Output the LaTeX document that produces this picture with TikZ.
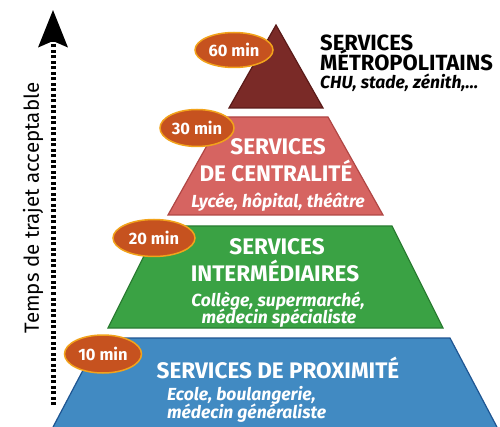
\documentclass[tikz,border=0pt]{standalone}
\usepackage{fontspec}
\setmainfont{Fira Sans}
\usetikzlibrary{arrows.meta,shapes.geometric}

\definecolor{metrored}{HTML}{7A2A27}
\definecolor{metroline}{HTML}{5A1A18}
\definecolor{centrered}{HTML}{D66461}
\definecolor{centreline}{HTML}{B04644}
\definecolor{intergreen}{HTML}{3AA244}
\definecolor{interline}{HTML}{2A7D32}
\definecolor{proxblue}{HTML}{418AC2}
\definecolor{proxline}{HTML}{1E5592}
\definecolor{badgefill}{HTML}{C6521F}
\definecolor{badgerim}{HTML}{F2A31B}

\begin{document}
\begin{tikzpicture}[x=1pt, y=-1pt,
	tier/.style={line width=1.2pt, line join=miter},
	badge/.style={ellipse, fill=badgefill, draw=badgerim, line width=1.5pt, inner sep=0pt, text=white, font=\bfseries\fontsize{16.5}{16.5}\selectfont},
	title/.style={anchor=base, inner sep=0pt, text=white, font=\bfseries\fontsize{22.5}{22.5}\selectfont},
	example/.style={anchor=base, inner sep=0pt, text=white, font=\bfseries\itshape\fontsize{17.5}{17.5}\selectfont}]
		%%%%% START %%%%%
		\useasboundingbox (0, 0) rectangle (500, 427);
		
		% axe du temps
		\coordinate (axisfoot) at (53, 405);
		\coordinate (axistip) at (53, 10);
		\draw[line width=5pt, dash pattern=on 3pt off 2.5pt, -{Stealth[length=37pt, width=29pt, inset=6pt]}] (axisfoot) -- (axistip);
		\node[rotate=90, font=\fontsize{20.5}{20.5}\selectfont] (axislabel) at (33, 208) {Temps de trajet acceptable};
		
		% etages
		\draw[tier, fill=proxblue, draw=proxline] (100, 338) -- (450, 338) -- (498, 429) -- (52, 429) -- cycle;
		\draw[tier, fill=intergreen, draw=interline] (159, 226) -- (392, 226) -- (443, 328) -- (108, 328) -- cycle;
		\draw[tier, fill=centrered, draw=centreline] (223, 117) -- (328, 117) -- (383, 215) -- (168, 215) -- cycle;
		\draw[tier, fill=metrored, draw=metroline] (276, 25) -- (323, 108) -- (229, 108) -- cycle;
		
		% textes
		\node[title, anchor=base west, text=black, align=left, font={\bfseries\fontsize{22}{20.5}\selectfont\lineskiplimit -20pt\relax}] (metrotitle) at (320, 89)
			{SERVICES\\MÉTROPOLITAINS\\[-2.5pt]{\itshape\fontsize{17.5}{17.5}\selectfont CHU, stade, zénith,...}};
		
		\node[title] (centretitle) at (278, 155) {SERVICES};
		\node[title] (centretitleb) at (276, 182) {DE CENTRALITÉ};
		\node[example] (centreex) at (278, 208) {Lycée, hôpital, théâtre};
		
		\node[title] (intertitle) at (277, 255) {SERVICES};
		\node[title] (intertitleb) at (275, 282) {INTERMÉDIAIRES};
		\node[example] (interex) at (278, 306) {Collège, supermarché,};
		\node[example] (interexb) at (279, 323) {médecin spécialiste};
		
		\node[title] (proxtitle) at (278, 378) {SERVICES DE PROXIMITÉ};
		\node[example, anchor=base west] (proxex) at (167, 400) {Ecole, boulangerie,};
		\node[example, anchor=base west] (proxexb) at (167, 418) {médecin généraliste};
		
		% temps
		\node[badge, minimum width=78pt, minimum height=35pt] (sixty) at (234, 50) {60 min};
		\node[badge, minimum width=74pt, minimum height=37pt] (thirty) at (197, 128) {30 min};
		\node[badge, minimum width=82pt, minimum height=37pt] (twenty) at (154, 238) {20 min};
		\node[badge, minimum width=77pt, minimum height=38pt] (ten) at (103, 354) {10 min};
		
		%%%%% END %%%%%
\end{tikzpicture}
\end{document}
